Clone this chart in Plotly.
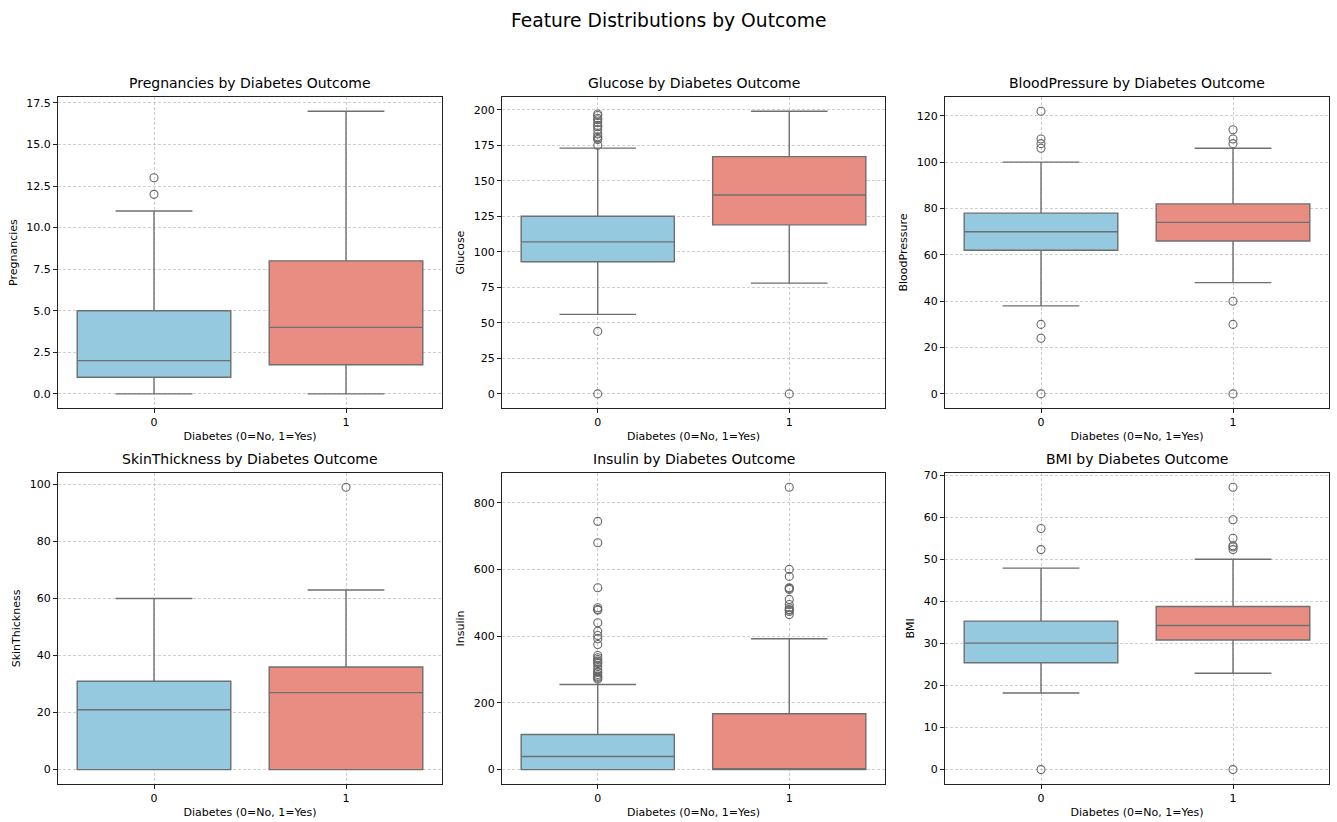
import plotly.graph_objects as go
from plotly.subplots import make_subplots

# ---------------- data ----------------
features = ["Pregnancies", "Glucose", "BloodPressure", "SkinThickness", "Insulin", "BMI"]
outcomes = [0, 1]

q1 = {
    "Pregnancies": [1, 1.75], "Glucose": [93, 119], "BloodPressure": [62, 66],
    "SkinThickness": [0, 0], "Insulin": [0, 0], "BMI": [25.4, 30.8],
}
median = {
    "Pregnancies": [2, 4], "Glucose": [107, 140], "BloodPressure": [70, 74],
    "SkinThickness": [21, 27], "Insulin": [39, 0], "BMI": [30.05, 34.25],
}
q3 = {
    "Pregnancies": [5, 8], "Glucose": [125, 167], "BloodPressure": [78, 82],
    "SkinThickness": [31, 36], "Insulin": [105, 167.25], "BMI": [35.3, 38.78],
}
lower = {
    "Pregnancies": [0, 0], "Glucose": [56, 78], "BloodPressure": [38, 48],
    "SkinThickness": [0, 0], "Insulin": [0, 0], "BMI": [18.2, 22.9],
}
upper = {
    "Pregnancies": [11, 17], "Glucose": [173, 199], "BloodPressure": [100, 106],
    "SkinThickness": [60, 63], "Insulin": [255, 392], "BMI": [47.9, 50.0],
}
outliers = {
    "Pregnancies": [[12, 13], []],
    "Glucose": [[0, 44, 175, 179, 180, 181, 183, 186, 188, 189, 191, 193, 194, 196, 197], [0]],
    "BloodPressure": [[0, 24, 30, 106, 108, 110, 122], [0, 30, 40, 108, 110, 114]],
    "SkinThickness": [[], [99]],
    "Insulin": [[271, 274, 277, 280, 285, 291, 293, 300, 310, 318, 321, 325, 330, 335, 342,
                 375, 392, 402, 415, 440, 478, 480, 485, 545, 680, 744],
                [465, 474, 478, 480, 485, 495, 510, 540, 543, 545, 579, 600, 846]],
    "BMI": [[0, 52.3, 57.3], [0, 52.3, 52.9, 53.2, 55.0, 59.4, 67.1]],
}
data_max = {"Pregnancies": 17, "Glucose": 199, "BloodPressure": 122,
            "SkinThickness": 99, "Insulin": 846, "BMI": 67.1}
ytick_step = {"Pregnancies": 2.5, "Glucose": 25, "BloodPressure": 20,
              "SkinThickness": 20, "Insulin": 200, "BMI": 10}
ytick_fmt = {"Pregnancies": ".1f", "Glucose": "d", "BloodPressure": "d",
             "SkinThickness": "d", "Insulin": "d", "BMI": "d"}
x_tick_labels = ["0", "1"]

# ---------------- styling ----------------
FONT = "DejaVu Sans"
fills = ["#94C9DF", "#E98D83"]
LINE = "#6f6f6f"
W, H = 1337, 822

x_domains = [[58 / W, 442 / W], [502 / W, 885 / W], [945 / W, 1329 / W]]
y_domains = [[1 - 406 / H, 1 - 93.5 / H], [1 - 783.5 / H, 1 - 471.5 / H]]

fig = make_subplots(rows=2, cols=3)

annotations = []
for i, feat in enumerate(features):
    r, c = divmod(i, 3)
    row, col = r + 1, c + 1
    for k, oc in enumerate(outcomes):
        fig.add_trace(go.Box(
            x=[oc], q1=[q1[feat][k]], median=[median[feat][k]], q3=[q3[feat][k]],
            lowerfence=[lower[feat][k]], upperfence=[upper[feat][k]],
            width=0.8, whiskerwidth=0.5, fillcolor=fills[k],
            line=dict(color=LINE, width=1.4), boxpoints=False, showlegend=False,
        ), row=row, col=col)
        if outliers[feat][k]:
            fig.add_trace(go.Scatter(
                x=[oc] * len(outliers[feat][k]), y=outliers[feat][k], mode="markers",
                marker=dict(symbol="circle-open", size=8, color="#666666", line=dict(width=1.1)),
                showlegend=False,
            ), row=row, col=col)
    ymax = data_max[feat]
    pad = 0.05 * ymax
    fig.update_yaxes(
        range=[-pad, ymax + pad], dtick=ytick_step[feat], tick0=0, tickformat=ytick_fmt[feat],
        title=dict(text=feat, font=dict(size=11, color="black", family=FONT), standoff=6),
        domain=y_domains[r], row=row, col=col,
    )
    fig.update_xaxes(
        range=[-0.5, 1.5], tickvals=outcomes, ticktext=x_tick_labels,
        title=dict(text="Diabetes (0=No, 1=Yes)", font=dict(size=11, color="black", family=FONT),
                   standoff=4),
        domain=x_domains[c], row=row, col=col,
    )
    annotations.append(dict(
        text=f"{feat} by Diabetes Outcome", xref="paper", yref="paper",
        x=(x_domains[c][0] + x_domains[c][1]) / 2, y=y_domains[r][1],
        xanchor="center", yanchor="bottom", yshift=4, showarrow=False,
        font=dict(size=14, color="black", family=FONT),
    ))

axis_common = dict(
    showline=True, mirror=True, linecolor="#222222", linewidth=1,
    ticks="outside", ticklen=4, tickwidth=0.8, tickcolor="#222222",
    showgrid=True, gridcolor="rgba(175,175,175,0.6)", griddash="3px,2px", gridwidth=0.8,
    zeroline=False, tickfont=dict(size=11, color="black", family=FONT),
)
fig.update_xaxes(**axis_common)
fig.update_yaxes(**axis_common)

annotations.append(dict(
    text="Feature Distributions by Outcome", xref="paper", yref="paper",
    x=0.5, y=1 - 17 / H, xanchor="center", yanchor="middle", showarrow=False,
    font=dict(size=18.7, color="black", family=FONT),
))

fig.update_layout(
    width=W, height=H, margin=dict(l=0, r=0, t=0, b=0),
    plot_bgcolor="white", paper_bgcolor="white",
    annotations=annotations, font=dict(family=FONT),
)

fig.write_html("out.html")
